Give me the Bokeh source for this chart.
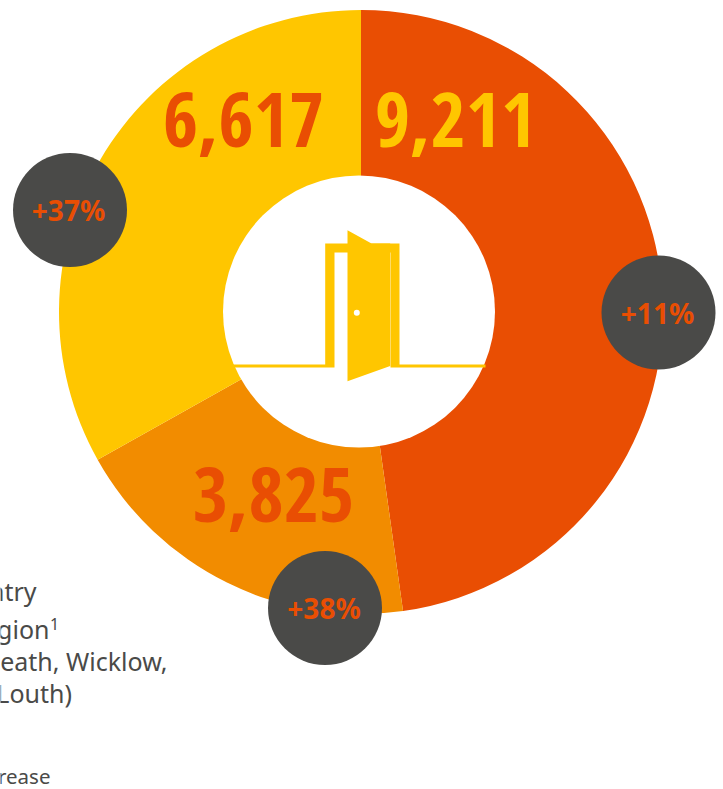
from bokeh.plotting import figure
from bokeh.core.properties import value
from bokeh.embed import file_html
from bokeh.resources import INLINE
import numpy as np

W, H = 723, 789

# Data
labels = ["9,211", "3,825", "6,617"]
sweep_deg = [172.0, 68.7, 119.3]   # slice sizes as drawn in the reference
slice_colors = ["#E94E03", "#F28C00", "#FFC600"]
label_colors = ["#FFC600", "#E94E03", "#E94E03"]
label_px = [455, 273, 243]
label_py = [147, 522, 147]
badges = ["+11%", "+38%", "+37%"]
badge_px = [658, 324.5, 69.5]
badge_py = [312, 607.5, 209.5]
badge_text_px = [657, 323.5, 68]

legend_lines = ["ntry", "gion", "eath, Wicklow,", "Louth)"]
legend_right = [36, 49, 167, 71.5]
legend_base = [600, 638, 670, 702]
note_line = ["rease"]
note_right = [50]
note_base = [783]

GREY = "#4A4A48"
BOLD = "Open Sans Condensed"
TXT = "Noto Sans"


def Y(py):
    return H - np.asarray(py, dtype=float)


def base(py, size):
    # The SVG text sits 0.37 em under the requested alphabetic line
    return Y(np.asarray(py, dtype=float) - 0.37 * size)


p = figure(width=W, height=H, x_range=(0, W), y_range=(0, H),
           output_backend="svg", toolbar_location=None, min_border=0,
           outline_line_color=None, background_fill_color="white",
           border_fill_color="white")
p.axis.visible = False
p.grid.visible = False

# Donut: clockwise from the top
sweep = np.radians(sweep_deg)
ends = np.pi / 2 - np.cumsum(sweep)
starts = ends + sweep
p.annular_wedge(x=360.5, y=Y(311.5), inner_radius=100, outer_radius=302,
                start_angle=ends, end_angle=starts,
                fill_color=slice_colors, line_color=None)
p.circle(x=358.5, y=Y(311), radius=136, fill_color="white", line_color=None)

# Door icon
ICON = "#FFC600"
p.patch(x=[232, 324.7, 324.7, 399, 399, 485, 485, 390, 390, 334, 334, 232],
        y=Y([364, 364, 243, 243, 364, 364, 367, 367, 252, 252, 367, 367]),
        fill_color=ICON, line_color=None)
p.patch(x=[347, 371, 389.7, 389.7, 347],
        y=Y([229.7, 243, 243, 365.5, 380.7]),
        fill_color=ICON, line_color=None)
p.circle(x=356.3, y=Y(312.3), radius=3, fill_color="white", line_color=None)

# Big numbers
p.text(x=label_px, y=base(label_py, 76), text=labels, text_color=label_colors,
       text_font=value(BOLD), text_font_style="bold", text_font_size="76px",
       text_align="center", text_baseline="alphabetic")

# Badges
p.circle(x=badge_px, y=Y(badge_py), radius=57, fill_color=GREY, line_color=None)
p.text(x=badge_text_px, y=base(np.array(badge_py) + 10.5, 28), text=badges,
       text_color="#E94E03", text_font=value(TXT), text_font_style="bold",
       text_font_size="28px", text_align="center", text_baseline="alphabetic")

# Cropped legend text
p.text(x=legend_right, y=base(legend_base, 25), text=legend_lines, text_color=GREY,
       text_font=value(TXT), text_font_size="25px",
       text_align="right", text_baseline="alphabetic")
p.text(x=[49.5], y=base([629], 16), text=["1"], text_color=GREY,
       text_font=value(TXT), text_font_size="16px",
       text_align="left", text_baseline="alphabetic")
p.text(x=note_right, y=base(note_base, 20.5), text=note_line, text_color=GREY,
       text_font=value(TXT), text_font_size="20.5px",
       text_align="right", text_baseline="alphabetic")

open("out.html", "w").write(file_html(p, INLINE))
